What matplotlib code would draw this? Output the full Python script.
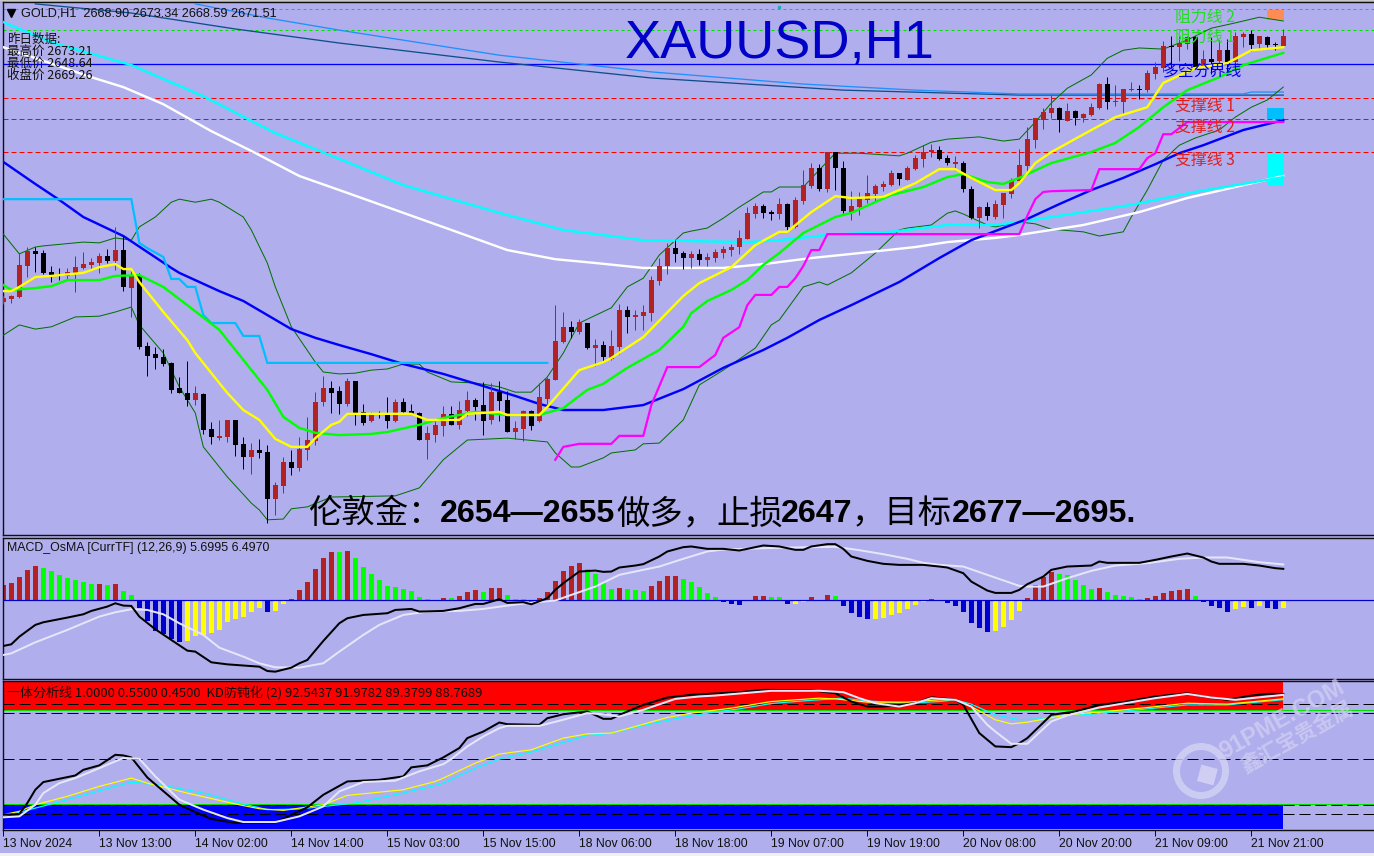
import matplotlib
matplotlib.use("Agg")
import matplotlib.pyplot as plt
import matplotlib.transforms as mtrans
from matplotlib.patches import Wedge, Rectangle
import numpy as np

W, H = 1374, 856
BG = "#B0AEEC"
BROWN = "#B22222"
CJK = ["Noto Sans CJK SC", "DejaVu Sans"]
UI = "Liberation Sans"

# ---------- candles (hourly, O H L C) ----------
opens = [2601.5,2602.3,2602.8,2611.0,2615.0,2614.4,2609.4,2608.9,2608.4,2609.2,2610.5,2611.3,2611.8,2613.6,2612.3,2615.2,2605.2,2608.6,2590.0,2587.8,
 2587.1,2585.5,2578.9,2577.6,2575.7,2577.3,2568.1,2565.7,2566.0,2570.5,2564.2,2560.7,2562.6,2562.1,2549.7,2553.1,2559.4,2557.8,2562.6,2565.0,
 2575.2,2578.9,2578.1,2574.7,2580.7,2572.6,2570.2,2572.1,2572.1,2570.2,2575.2,2572.8,2572.3,2565.2,2566.5,2568.9,2572.1,2569.2,2572.8,2575.7,
 2574.4,2570.5,2577.8,2575.7,2567.3,2568.1,2572.8,2570.2,2576.0,2581.0,2591.0,2594.9,2593.6,2596.0,2589.4,2590.2,2586.5,2589.7,2599.4,2597.6,
 2597.8,2598.6,2607.1,2611.0,2615.7,2614.4,2613.1,2614.2,2612.6,2613.1,2614.4,2615.2,2616.0,2618.1,2624.7,2626.8,2625.2,2624.7,2627.3,2621.3,
 2628.1,2632.1,2636.8,2631.3,2641.0,2636.8,2625.2,2626.5,2628.4,2630.0,2631.8,2632.3,2635.5,2633.6,2636.5,2639.2,2641.0,2641.5,2639.4,2637.8,
 2638.1,2631.3,2623.6,2626.5,2623.9,2627.1,2630.0,2633.4,2637.3,2644.2,2649.4,2651.3,2652.6,2649.2,2651.8,2650.0,2650.7,2652.6,2658.9,2654.2,
 2654.2,2657.3,2657.6,2657.3,2661.5,2663.1,2668.9,2668.6,2669.4,2671.3,2663.4,2665.5,2665.0,2667.8,2664.7,2671.3,2672.1,2669.4,2671.3,2669.4,2668.90]
highs = [2603.1,2603.4,2614.4,2616.0,2616.0,2615.2,2611.0,2610.5,2610.5,2613.6,2614.7,2613.1,2614.4,2615.5,2621.3,2618.9,2610.0,2609.2,2591.0,2589.7,
 2589.2,2585.7,2581.8,2586.0,2579.4,2577.6,2570.0,2570.5,2570.5,2570.5,2566.0,2564.4,2565.5,2563.9,2554.2,2560.7,2562.6,2566.0,2571.3,2577.9,
 2582.1,2580.7,2579.4,2581.5,2580.7,2574.7,2572.6,2572.8,2576.5,2576.0,2576.3,2574.7,2572.6,2568.9,2570.2,2574.2,2574.2,2575.5,2578.1,2576.3,
 2580.5,2580.2,2580.7,2578.1,2570.2,2573.1,2573.1,2580.2,2581.8,2600.7,2598.9,2596.5,2597.1,2596.0,2591.8,2591.3,2594.2,2601.0,2600.5,2599.4,
 2600.7,2608.4,2613.1,2617.1,2617.8,2615.0,2615.0,2615.5,2614.4,2615.5,2616.3,2616.8,2620.5,2626.5,2627.6,2627.3,2625.7,2628.9,2627.6,2629.2,
 2636.3,2638.1,2637.8,2641.0,2641.0,2638.6,2630.7,2630.5,2635.0,2632.6,2633.4,2636.3,2635.5,2637.3,2640.2,2642.8,2643.1,2642.6,2640.2,2640.0,
 2638.6,2632.1,2626.8,2627.8,2628.4,2630.2,2634.2,2641.8,2647.6,2650.0,2652.6,2656.0,2652.8,2653.9,2652.1,2651.3,2653.9,2659.2,2660.7,2658.6,
 2657.6,2659.4,2658.6,2662.6,2664.7,2670.2,2671.5,2671.5,2671.5,2671.5,2667.8,2671.3,2670.5,2670.7,2672.6,2672.6,2673.1,2671.5,2671.5,2670.0,2673.34]
lows = [2601.0,2601.3,2602.6,2608.1,2609.4,2608.9,2606.8,2607.3,2607.3,2604.2,2610.2,2610.2,2609.2,2611.8,2610.0,2604.4,2597.6,2589.2,2582.1,2583.9,
 2584.7,2577.6,2577.6,2574.2,2574.4,2566.8,2564.2,2565.2,2564.7,2561.0,2557.6,2556.3,2560.5,2543.4,2545.5,2551.3,2556.0,2557.1,2560.0,2563.9,
 2574.2,2572.3,2572.1,2574.2,2569.2,2569.2,2569.9,2571.0,2568.4,2569.9,2572.3,2572.1,2565.2,2560.2,2564.7,2566.3,2569.2,2568.1,2571.5,2570.5,
 2566.5,2569.4,2570.2,2567.3,2565.5,2565.0,2567.9,2569.9,2574.4,2581.0,2590.7,2592.1,2593.1,2589.2,2584.7,2586.0,2586.3,2587.8,2593.4,2594.2,
 2594.2,2596.5,2606.0,2608.9,2612.1,2610.2,2610.5,2611.3,2611.0,2612.1,2613.1,2613.6,2614.2,2618.1,2623.6,2623.6,2623.1,2623.4,2620.0,2621.0,
 2627.3,2631.5,2630.7,2630.5,2631.0,2625.0,2623.1,2624.4,2627.6,2628.1,2630.7,2632.1,2632.3,2633.6,2636.3,2637.1,2639.7,2638.9,2637.6,2636.3,
 2630.5,2623.4,2621.0,2623.1,2623.4,2623.6,2628.9,2633.1,2635.7,2642.1,2647.1,2650.0,2646.3,2649.2,2648.1,2648.9,2650.5,2652.3,2652.3,2653.1,
 2651.0,2657.1,2655.0,2656.8,2660.2,2662.1,2663.1,2665.0,2668.1,2663.4,2663.1,2661.5,2664.4,2661.5,2664.4,2668.6,2667.6,2668.1,2668.1,2667.8,2668.59]
closes = [2602.6,2603.1,2611.3,2615.0,2614.2,2609.2,2608.6,2608.4,2609.4,2610.7,2611.5,2612.1,2613.6,2612.3,2615.2,2605.5,2608.6,2589.7,2587.3,2586.8,
 2585.2,2578.4,2577.6,2575.7,2577.6,2567.9,2566.0,2566.3,2570.5,2563.9,2560.7,2562.6,2561.8,2549.7,2553.4,2559.4,2557.8,2562.9,2565.2,2575.2,
 2578.9,2577.6,2574.7,2580.7,2572.1,2569.7,2572.1,2571.8,2570.2,2575.2,2572.6,2572.1,2565.2,2567.1,2569.2,2572.1,2569.2,2573.1,2575.7,2573.9,
 2570.2,2577.8,2575.5,2567.3,2568.4,2572.8,2568.9,2576.5,2581.3,2591.3,2594.9,2593.6,2596.3,2589.4,2590.2,2587.1,2590.0,2599.4,2597.6,2598.1,
 2598.9,2607.3,2611.0,2615.7,2614.2,2613.1,2614.2,2612.6,2613.4,2614.7,2615.5,2616.0,2618.4,2625.0,2626.8,2625.0,2624.7,2627.3,2621.3,2628.4,
 2632.3,2636.8,2631.3,2641.0,2636.8,2625.5,2626.8,2628.6,2630.2,2632.1,2632.6,2635.5,2633.9,2636.8,2639.4,2641.0,2641.5,2639.2,2638.1,2638.4,
 2631.3,2623.6,2626.5,2624.2,2627.3,2630.2,2633.6,2637.6,2644.4,2650.0,2651.5,2652.6,2649.4,2651.8,2650.0,2651.0,2652.8,2658.9,2654.2,2654.4,
 2657.6,2657.6,2657.3,2661.8,2663.4,2668.9,2668.6,2669.7,2671.3,2663.4,2665.5,2664.7,2667.8,2664.7,2671.5,2672.1,2669.2,2671.5,2669.2,2669.2,2671.51]

# ---------- overlays on the price panel (bar index, price) ----------
ma_blue_i = [0,4,7,10,15,21,22,27,30,33,36,39,42,46,50,55,60,64,67,70,75,80,85,90,95,98,102,106,112,117,121,125,128,132,136,140,144,147,150,155,160]
ma_blue_v = [2638.4,2632.6,2628.4,2623.9,2618.9,2610.5,2609.2,2604.4,2601.8,2598.1,2594.4,2592.1,2590.2,2587.8,2585.2,2582.6,2579.4,2576.8,2574.7,2573.1,2573.1,2574.4,2578.6,2584.2,2588.9,2592.1,2596.8,2600.7,2606.8,2613.1,2617.8,2621.0,2623.4,2627.3,2631.0,2634.2,2637.8,2640.7,2642.8,2646.8,2649.4]
ma_cyan_i = [0,6,16,25,34,42,50,62,70,80,85,93,97,103,111,118,124,127,141,149,160]
ma_cyan_v = [2675.2,2669.9,2663.9,2655.7,2646.0,2639.2,2632.3,2625.0,2620.5,2617.8,2617.6,2617.3,2617.8,2619.2,2620.0,2621.8,2621.8,2622.6,2627.1,2630.5,2634.4]
ma_white_i = [0,11,15,20,26,31,37,42,50,56,63,69,74,80,85,90,95,101,107,114,118,124,127,135,142,148,160]
ma_white_v = [2668.6,2660.7,2658.1,2653.6,2646.5,2641.3,2634.7,2631.0,2625.0,2620.5,2615.2,2612.8,2611.8,2610.5,2610.5,2610.5,2611.5,2613.1,2614.4,2616.0,2617.3,2618.4,2619.2,2621.8,2625.2,2628.9,2634.7]
step_sky_i = [0,16,17,18,20,21,22,23,24,25,26,29,30,32,33,68]
step_sky_v = [2628.6,2628.6,2617.1,2615.7,2613.4,2607.6,2607.6,2605.5,2605.5,2598.1,2596.0,2596.0,2592.6,2592.6,2585.5,2585.5]
step_mag_i = [69,70,72,76,77,80,81,83,87,89,90,92,93,94,96,97,98,99,100,101,102,103,127,128,129,130,131,136,137,142,143,144,145,146,147,148,160]
step_mag_v = [2560.0,2563.4,2564.2,2564.2,2566.3,2566.3,2574.4,2584.4,2584.4,2587.6,2592.1,2594.9,2600.7,2603.4,2603.4,2605.5,2605.5,2607.8,2611.0,2615.2,2615.2,2619.4,2619.4,2624.2,2628.6,2630.5,2630.7,2631.0,2636.5,2636.5,2639.4,2640.7,2645.7,2645.7,2647.3,2648.9,2648.9]
ma_yellow_i = [0,1,2,4,6,10,12,14,15,16,17,20,23,24,27,28,30,32,34,36,38,39,41,42,43,51,53,57,58,62,63,67,68,72,75,76,80,85,87,91,94,97,98,101,104,106,110,114,117,119,121,124,126,127,129,131,136,139,143,145,149,153,156,160]
ma_yellow_v = [2604.4,2604.4,2605.5,2608.1,2608.4,2609.2,2610.7,2611.5,2610.2,2610.2,2606.8,2598.9,2591.5,2588.1,2580.2,2577.6,2573.1,2570.5,2565.5,2563.4,2563.4,2565.7,2569.2,2570.0,2572.1,2572.1,2570.5,2570.5,2572.1,2572.6,2571.8,2571.8,2573.9,2583.6,2585.7,2586.8,2592.3,2603.1,2606.5,2610.7,2616.5,2620.0,2620.0,2625.2,2629.4,2628.9,2629.2,2632.8,2636.5,2636.5,2634.2,2631.0,2631.0,2632.8,2638.1,2641.0,2646.8,2650.2,2652.8,2659.2,2663.1,2664.4,2667.8,2668.6]
ma_lime_i = [0,1,4,6,8,12,14,17,20,23,27,30,33,35,37,39,42,46,48,52,55,59,63,67,70,73,75,78,82,85,86,88,91,93,95,97,100,104,106,111,115,118,120,123,125,127,131,136,139,142,145,148,152,155,160]
ma_lime_v = [2606.0,2604.7,2605.2,2605.7,2607.3,2607.3,2608.4,2608.6,2605.5,2600.7,2594.2,2586.3,2578.4,2571.3,2568.4,2567.1,2566.5,2566.8,2567.3,2569.2,2571.0,2572.6,2571.8,2571.8,2573.6,2578.4,2580.0,2584.2,2588.9,2595.0,2598.6,2601.8,2604.7,2607.3,2611.3,2614.4,2619.7,2623.9,2625.0,2629.7,2631.8,2634.4,2635.2,2633.1,2632.6,2634.2,2638.1,2641.0,2643.4,2647.6,2652.8,2657.3,2660.7,2663.9,2667.1]
bb_up_i = [0,2,4,5,10,12,14,16,17,19,21,22,24,26,27,30,31,33,34,36,39,40,42,44,46,48,50,52,53,56,59,62,64,66,68,70,72,76,78,80,82,85,86,88,90,92,95,96,97,100,102,104,107,112,113,116,118,122,125,127,129,131,133,136,138,140,142,145,148,151,154,157,160]
bb_up_v = [2619.4,2614.2,2616.0,2616.3,2617.3,2617.1,2618.4,2617.8,2621.3,2623.9,2627.8,2628.6,2627.8,2628.6,2627.8,2623.9,2620.5,2611.8,2605.5,2595.0,2585.7,2583.1,2582.6,2582.8,2583.6,2583.9,2585.2,2585.2,2583.1,2580.5,2580.2,2579.2,2577.8,2577.8,2581.8,2588.1,2596.0,2600.0,2605.5,2607.8,2613.9,2619.7,2620.2,2621.0,2623.6,2626.5,2630.5,2630.5,2631.8,2631.8,2636.3,2640.7,2640.7,2640.0,2640.7,2643.6,2644.4,2645.0,2643.9,2644.4,2648.9,2653.9,2657.8,2661.3,2665.7,2667.8,2668.4,2668.1,2670.5,2673.6,2675.0,2676.5,2675.5]
bb_lo_i = [0,2,4,6,9,12,14,16,17,20,22,24,25,28,31,32,33,35,36,38,41,49,52,55,58,63,68,69,71,72,75,76,79,80,82,85,87,90,94,96,97,100,102,103,106,109,112,113,116,118,119,120,123,124,127,129,131,135,137,140,141,143,145,147,149,152,154,156,158,160]
bb_lo_v = [2592.8,2595.5,2594.4,2595.0,2597.6,2597.8,2598.9,2600.2,2595.5,2588.1,2579.2,2572.3,2563.4,2555.5,2548.6,2546.8,2544.2,2544.4,2547.1,2547.6,2550.2,2550.5,2552.6,2560.0,2565.2,2565.7,2564.7,2561.8,2558.1,2558.1,2560.5,2561.8,2562.6,2564.2,2564.4,2570.5,2579.7,2583.6,2589.4,2595.5,2596.8,2605.5,2606.8,2606.0,2609.2,2614.4,2620.5,2621.0,2621.8,2624.9,2625.5,2624.7,2621.8,2621.3,2622.6,2622.1,2620.7,2620.0,2618.9,2620.0,2623.9,2631.0,2638.9,2642.8,2644.7,2646.8,2650.2,2652.8,2654.7,2658.1]
slow_dark_i = [4,16,29,42,62,81,105,127,160]
slow_dark_v = [2680.0,2677.6,2673.4,2669.7,2664.7,2660.5,2657.3,2656.0,2656.0]
slow_light_i = [24,33,42,62,81,100,114,127,155,156,160]
slow_light_v = [2680.0,2676.3,2673.1,2666.5,2662.1,2658.9,2657.3,2656.3,2656.3,2656.8,2656.8]

# key horizontal levels
resist_levels = [2678.6, 2673.1]
pivot_level = 2664.2
support_levels = [2655.2, 2649.7, 2641.0]

# ---------- MACD panel ----------
osma = [2.79,3.15,4.24,5.52,6.24,5.88,5.33,4.61,4.06,3.70,3.33,2.97,2.97,2.79,2.97,1.70,0.97,-1.45,-3.76,-5.58,
 -6.12,-7.03,-7.52,-7.39,-6.48,-6.30,-5.94,-5.39,-3.94,-3.39,-3.03,-2.18,-1.45,-2.18,-1.94,-0.67,0.24,1.88,3.33,5.70,
 7.70,8.79,8.79,8.97,7.70,6.06,4.79,3.70,2.61,2.42,2.06,1.70,0.61,0.24,0,0.42,0.42,0.79,1.52,1.88,
 1.52,2.24,2.24,0.97,0.24,0.24,-0.30,0.42,1.52,3.52,5.33,6.24,6.79,5.70,4.79,3.15,2.06,2.24,2.06,1.88,
 1.70,2.61,3.52,4.42,4.42,3.88,3.33,2.42,1.33,0.61,-0.30,-0.67,-0.85,0,0.79,0.79,0.61,0.61,-0.67,-0.67,
 -0.30,0.61,0,0.97,0.79,-1.03,-2.30,-3.03,-3.39,-3.39,-3.21,-2.67,-2.30,-1.58,-0.85,-0.30,0.24,0,-0.48,-1.03,
 -2.12,-4.12,-5.03,-5.76,-5.58,-4.85,-3.58,-1.94,0.42,2.79,4.24,5.15,4.79,4.61,3.70,2.79,2.06,2.24,1.52,0.97,
 0.79,0.61,0.24,0.42,0.79,1.33,1.70,1.88,2.06,0.79,-0.30,-1.03,-1.39,-2.12,-1.58,-1.21,-1.39,-1.03,-1.39,-1.58,-1.39]
osma_state = ("r"*5+"g"*7+"r"+"g"+"r"+"g"*2+"B"*6+"y"*10+"B"+"y"*2+"r"*6+"g"+"r"+"g"*10+"g"+"r"+"g"+"r"*3+"g"+"r"*2+"g"*3+"B"
 +"r"*6+"g"*4+"r"+"g"*3+"r"*4+"g"*5+"B"*4+"r"*2+"g"*2+"B"+"y"*2+"r"*3+"g"+"B"*4+"y"*7+"r"*2+"B"*6+"y"*4+"r"*4+"g"*5+"r"+"g"*5+"r"*6+"g"+"B"*4+"y"*2+"B"+"y"+"B"*2+"y")
macd_i = [0,1,2,4,5,8,10,11,13,14,15,16,17,19,21,23,24,26,28,32,33,34,36,37,38,40,42,43,45,48,49,51,52,55,57,59,60,62,63,65,66,68,69,70,72,74,75,76,77,79,80,82,83,85,86,88,90,92,93,95,97,99,100,101,103,104,105,106,108,110,112,114,115,117,118,120,121,123,124,126,127,128,130,131,133,136,137,138,142,144,146,148,150,151,152,155,157,159,160]
macd_v = [-8.30,-8.0,-6.61,-4.48,-4.0,-3.15,-2.55,-1.94,-1.15,-0.55,-0.97,-1.03,-2.97,-5.27,-7.21,-9.15,-9.33,-11.27,-11.64,-12.06,-12.85,-12.97,-12.24,-11.45,-10.85,-7.39,-4.18,-3.27,-2.67,-2.36,-1.76,-1.58,-2.06,-1.94,-1.45,-0.67,-0.67,0.18,-0.48,-0.36,-0.73,0.36,1.88,3.09,5.21,5.39,5.15,5.21,5.94,6.30,6.55,7.94,8.85,9.64,9.76,9.33,9.33,9.03,9.33,9.94,9.76,9.15,9.15,9.76,10.18,10.18,9.33,7.94,7.15,6.61,6.42,6.42,6.42,6.12,5.94,4.91,3.39,1.76,1.33,1.33,1.88,2.91,4.30,5.52,6.12,6.30,7.03,6.79,6.79,7.33,7.94,8.48,7.76,7.03,6.61,6.61,6.30,5.82,5.6995]
signal_i = [0,1,4,8,10,12,14,16,18,20,22,25,27,30,32,34,37,40,42,45,47,50,53,57,60,63,66,69,71,74,77,80,82,85,88,90,95,99,104,107,110,113,115,117,120,123,127,128,130,133,136,139,143,147,150,153,157,160]
signal_v = [-9.94,-9.64,-7.64,-5.39,-4.18,-2.97,-2.18,-1.64,-1.76,-2.55,-4.18,-6.30,-8.61,-10.24,-11.45,-12.18,-12.24,-11.45,-9.33,-6.30,-4.48,-2.67,-2.06,-1.94,-1.58,-0.97,-0.42,-0.06,0.97,2.48,4.61,5.52,6.12,7.52,8.85,9.21,9.45,9.58,9.70,9.09,8.36,7.52,6.79,6.42,6.12,4.61,2.61,2.48,2.48,4.0,5.33,6.30,6.73,7.52,7.76,7.76,6.91,6.4970]

# ---------- KD panel ----------
kd_levels = [14, 20, 50, 80, 86]
band_hi = (82.3, 100.9)
band_lo = (4.3, 20.8)
kd_black_i = [0,2,3,4,5,9,10,12,14,15,16,18,22,24,26,29,34,36,38,40,43,47,50,51,53,55,57,58,59,60,62,63,67,68,70,73,75,76,78,80,83,86,92,95,101,104,106,108,110,114,116,119,120,122,124,126,127,128,131,134,137,140,144,148,150,153,156,158,160]
kd_black_v = [13.7,14.1,21.3,30.0,35.0,39.3,43.0,45.9,52.8,52.4,51.1,38.0,20.2,15.4,10.9,8.3,8.5,13.7,18.5,26.7,35.4,36.5,38.7,44.6,45.9,51.1,57.2,63.7,65.9,68.0,73.9,72.8,72.4,76.7,79.3,81.1,76.3,76.3,81.1,85.4,90.2,92.0,93.7,95.2,95.0,93.0,87.6,84.3,84.3,86.5,90.4,88.7,85.4,67.0,58.3,57.8,60.4,63.7,78.9,81.1,85.4,87.2,90.9,93.0,90.9,88.7,91.5,92.6,92.5437]
kd_white_i = [0,2,4,5,7,9,12,15,17,19,22,25,28,30,34,37,40,42,45,49,52,55,56,58,60,62,63,67,70,73,75,77,80,84,87,89,96,102,105,107,109,112,114,116,119,121,123,124,126,128,131,133,137,144,148,151,154,160]
kd_white_v = [12.0,12.6,20.2,27.8,34.3,37.6,44.1,50.7,50.2,38.7,23.5,17.0,11.5,8.9,8.9,12.6,19.1,28.9,35.0,35.9,42.0,46.7,50.0,58.3,64.8,70.2,71.7,71.7,75.7,80.0,79.3,77.8,82.2,89.3,90.9,91.5,94.6,94.6,93.7,89.8,86.5,84.3,86.5,89.8,88.7,84.3,72.4,68.0,60.0,60.0,74.6,78.5,83.7,89.8,92.6,90.2,88.7,91.9782]
kd_yellow_i = [0,2,4,8,12,16,18,23,29,32,35,40,43,50,54,55,59,62,66,70,73,76,79,83,86,91,96,102,104,108,113,117,119,121,124,126,128,133,137,143,148,153,160]
kd_yellow_v = [13.7,15.9,20.2,25.7,32.2,37.6,34.3,27.8,20.7,17.6,16.5,20.2,26.3,30.0,35.4,37.6,47.4,53.3,56.1,63.7,66.5,67.0,71.3,77.2,80.0,83.3,87.6,89.8,89.3,87.2,87.2,88.7,88.7,84.3,75.7,73.0,74.1,78.9,80.7,83.7,86.5,85.9,89.3799]
kd_cyan_i = [0,2,4,8,12,16,20,25,30,33,37,40,44,50,54,55,59,62,66,70,73,76,80,84,88,92,96,100,105,108,113,117,119,121,124,127,130,133,136,143,148,153,160]
kd_cyan_v = [13.0,15.2,18.0,23.5,29.3,35.0,32.8,27.8,20.7,17.0,17.4,19.1,21.3,27.8,32.8,34.3,44.1,50.0,54.6,60.9,65.4,67.0,72.0,76.3,80.0,82.8,86.3,88.0,89.8,88.0,86.5,87.6,88.7,85.9,78.9,75.7,76.3,78.5,79.3,82.8,85.4,85.4,88.7689]

tick_every = 12
time_labels = ["13 Nov 2024","13 Nov 13:00","14 Nov 02:00","14 Nov 14:00","15 Nov 03:00","15 Nov 15:00","18 Nov 06:00",
               "18 Nov 18:00","19 Nov 07:00","19 Nov 19:00","20 Nov 08:00","20 Nov 20:00","21 Nov 09:00","21 Nov 21:00"]

# ---------- figure ----------
fig = plt.figure(figsize=(W/100, H/100), dpi=100, facecolor=BG)
PX = 72/100
XLIM = (-0.04, 171.34)

def panel(y0, y1, ylim):
    ax = fig.add_axes([3/W, 1-y1/H, (W-3)/W, (y1-y0)/H], facecolor=BG)
    ax.set_xlim(*XLIM); ax.set_ylim(*ylim)
    ax.set_xticks([]); ax.set_yticks([])
    ax.spines["right"].set_visible(False)
    for s in ("left","top","bottom"):
        ax.spines[s].set_linewidth(1.4*PX); ax.spines[s].set_color("#101010")
    return ax

def txt(x, y, s, **kw):
    kw.setdefault("va", "center"); kw.setdefault("ha", "left")
    return fig.text(x/W, 1-y/H, s, **kw)

def line(ax, xs, ys, c, px=2, z=3, **kw):
    ax.plot(xs, ys, color=c, lw=px*PX, zorder=z, solid_joinstyle="miter", **kw)

# ---- price panel ----
ax = panel(2, 535, (2540.2, 2680.5))
for lv in resist_levels:
    ax.axhline(lv, color="#00E000", lw=1*PX, ls=(0, (3, 3)), zorder=1)
ax.axhline(pivot_level, color="#0000FF", lw=1.3*PX, zorder=1)
for lv in support_levels:
    ax.axhline(lv, color="#FF0000", lw=1*PX, ls=(0, (5, 3)), zorder=1)

line(ax, slow_dark_i, slow_dark_v, "#104E8B", 1.3)
line(ax, slow_light_i, slow_light_v, "#1E90FF", 1.3)
line(ax, bb_up_i, bb_up_v, "#007000", 1)
line(ax, bb_lo_i, bb_lo_v, "#007000", 1)
line(ax, ma_white_i, ma_white_v, "#FFFFFF", 2.4)
line(ax, ma_cyan_i, ma_cyan_v, "#00FFFF", 2.4)
line(ax, ma_blue_i, ma_blue_v, "#0000FF", 2.4)
line(ax, step_sky_i, step_sky_v, "#00BFFF", 2.2)
line(ax, step_mag_i, step_mag_v, "#FF00FF", 2.2)

idx = np.arange(len(closes))
op, hi, lo, cl = map(np.array, (opens, highs, lows, closes))
cols = np.where(cl >= op, BROWN, "#000000")
ax.vlines(idx, lo, hi, colors=cols, lw=1*PX, zorder=4)
bh = np.maximum(np.abs(cl-op), 0.35)
ax.bar(idx, bh, bottom=np.minimum(op, cl), width=0.62, color=cols, linewidth=0, zorder=5)
line(ax, ma_lime_i, ma_lime_v, "#00FF00", 2.4, z=6)
line(ax, ma_yellow_i, ma_yellow_v, "#FFFF00", 2.4, z=6)

# right-edge boxes tied to resistance and support zones
ax.add_patch(Rectangle((158, 2675.7), 2.1, 2.7, fc="#FF8C55", ec="none", zorder=2))
ax.add_patch(Rectangle((158, 2649.7), 2.1, 2.9, fc="#00BFFF", ec="none", zorder=2))
ax.add_patch(Rectangle((158, 2632.1), 2.1, 8.7, fc="#00FFFF", ec="none", zorder=2))
ax.plot([97], [2679.2], marker="s", ms=1.6, color="#20B0B0", zorder=8)
ax.plot([1], [2677.6], marker="v", ms=5.5, color="#000000", zorder=8)

# ---- MACD panel ----
ax2 = panel(538, 679, (-14.3, 11.3))
state_col = {"r": BROWN, "g": "#00FF00", "B": "#0000CD", "y": "#FFFF00"}
ax2.bar(np.arange(len(osma)), osma, width=0.62, color=[state_col[s] for s in osma_state], linewidth=0, zorder=2)
ax2.axhline(0, color="#0000CD", lw=1.2*PX, zorder=3)
line(ax2, signal_i, signal_v, "#E6E6FA", 2, z=4)
line(ax2, macd_i, macd_v, "#000000", 2, z=5)

# ---- KD panel ----
ax3 = panel(681, 830, (3.7, 101.0))
ax3.fill_between([XLIM[0], 160], band_hi[0], band_hi[1], color="#FF0000", lw=0, zorder=1)
ax3.fill_between([XLIM[0], 160], band_lo[0], band_lo[1], color="#0000FF", lw=0, zorder=1)
ax3.axhline(band_hi[0], color="#00E000", lw=1*PX, zorder=2)
ax3.axhline(band_lo[1], color="#00E000", lw=1*PX, zorder=2)
for lv in kd_levels:
    ax3.axhline(lv, color="#000000", lw=1*PX, ls=(0, (11, 5)), zorder=2)
line(ax3, kd_cyan_i, kd_cyan_v, "#00FFFF", 1.2, z=3)
line(ax3, kd_yellow_i, kd_yellow_v, "#FFFF00", 1.2, z=3)
line(ax3, kd_black_i, kd_black_v, "#000000", 2, z=4)
line(ax3, kd_white_i, kd_white_v, "#E6E6FA", 2, z=5)
ticks = [tick_every*k for k in range(len(time_labels))]
ax3.set_xticks(ticks)
ax3.set_xticklabels(time_labels, ha="left", fontsize=8.8, family=UI, color="#101010")
ax3.tick_params(axis="x", length=4, width=1*PX, pad=2, color="#101010")

# ---- texts ----
txt(21, 13, "GOLD,H1  2668.90 2673.34 2668.59 2671.51", fontsize=9.05, family=UI, color="#101010")
for y, s in ((39, "昨日数据:"), (51, "最高价 2673.21"), (63, "最低价 2648.64"), (75, "收盘价 2669.26")):
    txt(7, y, s, fontsize=9.0, family=CJK, color="#101010")
txt(625, 44, "XAUUSD,H1", fontsize=39, family=UI, color="#0000C8")
txt(1175, 17, "阻力线 2", fontsize=11.4, family=CJK, color="#22DD22")
txt(1175, 37, "阻力线 1", fontsize=11.4, family=CJK, color="#22DD22")
txt(1163, 71, "多空分界线", fontsize=11.4, family=CJK, color="#0000E6")
txt(1175, 106, "支撑线 1", fontsize=11.4, family=CJK, color="#E02020")
txt(1175, 127, "支撑线 2", fontsize=11.4, family=CJK, color="#E02020")
txt(1175, 160, "支撑线 3", fontsize=11.4, family=CJK, color="#E02020")

txt(7, 548, "MACD_OsMA [CurrTF] (12,26,9) 5.6995 6.4970", fontsize=8.95, family=UI, color="#101010")
txt(7, 693, "一体分析线 1.0000 0.5500 0.4500  KD防钝化 (2) 92.5437 91.9782 89.3799 88.7689", fontsize=9.4, family=CJK, color="#101010")

CY = 514
FW_COLON, FW_COMMA = "\uff1a", "\uff0c"
for x, s, bold in ((308, "伦敦金"+FW_COLON, False), (440, "2654—2655", True), (616, "做多"+FW_COMMA, False), (716, "止损", False),
                   (781, "2647", True), (852, FW_COMMA+"目标", False), (952, "2677—2695.", True)):
    if bold:
        txt(x, CY, s, fontsize=23.2, family=UI, weight="bold", color="#000000")
    else:
        txt(x, CY, s, fontsize=24, family=CJK, color="#000000")

# ---- watermark ----
pix = mtrans.Affine2D().scale(1/W, 1/H) + fig.transFigure
WM = "#D4D3F4"
fig.add_artist(Wedge((1201, H-771), 28, 0, 360, width=7, fc=WM, ec="none", transform=pix, alpha=0.8))
fig.add_artist(Rectangle((1197, H-781), 17, 17, angle=-15, fc=WM, ec="none", transform=pix, alpha=0.9))
txt(1282, 720, "91PME.COM", fontsize=17, family=UI, weight="bold", color=WM, rotation=29,
    ha="center", rotation_mode="anchor", alpha=0.7)
txt(1297, 737, "鑫汇宝贵金属", fontsize=15, family=CJK, weight="bold", color=WM, rotation=29,
    ha="center", rotation_mode="anchor", alpha=0.7)

# bottom strip and window edge
fig.add_artist(Rectangle((0, 0), W, 3, fc="#F0F0F0", ec="none", transform=pix))
fig.add_artist(Rectangle((0, H-1), W, 1, fc="#C8C8C8", ec="none", transform=pix))

fig.savefig("out.png", dpi=100, facecolor=BG)
